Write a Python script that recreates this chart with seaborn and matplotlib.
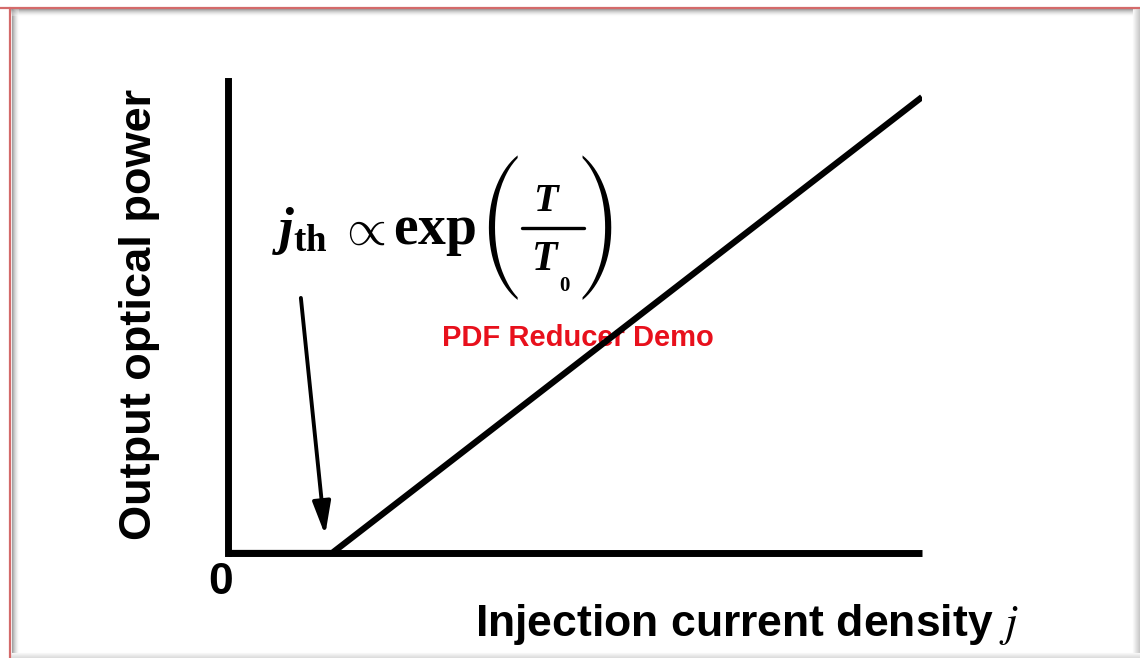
import os
import matplotlib
matplotlib.use("Agg")
import matplotlib.pyplot as plt
import seaborn as sns
import pandas as pd
from matplotlib.lines import Line2D
from matplotlib.font_manager import FontProperties

# Light output vs. injection current density of a laser diode (arbitrary units)
current_density = [0.0, 1.5, 10.0]
optical_power = [0.0, 0.0, 9.67]

# Annotation arrow pointing at the threshold current density
arrow_tail = (1.05, 5.41)
arrow_head = (1.40, 0.38)

x_label = r"Injection current density $j$"
y_label = "Output optical power"
origin_label = "0"
watermark = "PDF Reducer Demo"

sns.set_theme(style="white")
plt.rcParams.update({
    "font.family": ["Liberation Sans", "DejaVu Sans"],
    "text.color": "black",
    "mathtext.fontset": "custom",
    "mathtext.rm": "Liberation Serif:bold",
    "mathtext.it": "Liberation Serif:italic:bold",
    "mathtext.bf": "Liberation Serif:bold",
    "mathtext.fallback": "cm",
})

# Tall parenthesis glyphs shipped with matplotlib's STIX fonts
paren_font = FontProperties(
    fname=os.path.join(matplotlib.get_data_path(), "fonts", "ttf", "STIXSizFourSymReg.ttf"))

W, H = 1140, 658
fig = plt.figure(figsize=(W / 100, H / 100), dpi=100)
fig.patch.set_facecolor("white")


def fx(px):
    return px / W


def fy(py):
    return 1 - py / H


# Slide frame: red outline with soft grey inner shadow
for i in range(7):
    g = 0.60 + i * 0.06
    fig.add_artist(Line2D([fx(11), fx(1134)], [fy(9 + i), fy(9 + i)],
                          color=(g, g, g), lw=0.8, alpha=0.9 - i * 0.1))
    fig.add_artist(Line2D([fx(12 + i), fx(12 + i)], [fy(9), fy(658)],
                          color=(g, g, g), lw=0.8, alpha=0.9 - i * 0.1))
for i in range(8):
    g = 0.76 + i * 0.03
    fig.add_artist(Line2D([fx(1139.5 - i), fx(1139.5 - i)], [fy(9), fy(658)],
                          color=(g, g, g), lw=0.8))
for i in range(6):
    g = 0.84 + i * 0.025
    fig.add_artist(Line2D([fx(11), fx(1140)], [fy(657.5 - i), fy(657.5 - i)],
                          color=(g, g, g), lw=0.8))
fig.add_artist(Line2D([fx(0), fx(1140)], [fy(7.5), fy(7.5)], color="#d46a6a", lw=1.6))
fig.add_artist(Line2D([fx(10), fx(10)], [fy(7.5), fy(658)], color="#d46a6a", lw=1.6))

ax = fig.add_axes([fx(228), fy(553), fx(922) - fx(228), fy(81.5) - fy(553)])
ax.set_facecolor("none")

df = pd.DataFrame({"j": current_density, "P": optical_power})
sns.lineplot(data=df, x="j", y="P", ax=ax, color="black", lw=4.5,
             solid_capstyle="butt", zorder=4)

ax.set_xlim(0, 10)
ax.set_ylim(0, 10)
ax.set_xticks([])
ax.set_yticks([])
for side in ("top", "right"):
    ax.spines[side].set_visible(False)
for side in ("left", "bottom"):
    ax.spines[side].set_color("black")
    ax.spines[side].set_linewidth(5)
    ax.spines[side].set_zorder(5)
ax.spines["left"].set_capstyle("projecting")
ax.spines["bottom"].set_capstyle("butt")

ax.set_xlabel(x_label, fontsize=32, fontweight="bold", color="black",
              math_fontfamily="stix")
ax.xaxis.set_label_coords(0.747, -0.104)
ax.set_ylabel(y_label, fontsize=32.5, fontweight="bold", color="black")
ax.yaxis.set_label_coords(-0.098, 0.505)

ax.text(-0.10, -0.62, origin_label, fontsize=32, fontweight="bold", color="black",
        ha="center", va="center", clip_on=False)

ax.text(5.04, 4.55, watermark, fontsize=21, fontweight="bold", color="#e8101c",
        ha="center", va="center", zorder=3)

ax.annotate("", xy=arrow_head, xytext=arrow_tail,
            arrowprops=dict(arrowstyle="-|>,head_length=0.8,head_width=0.22",
                            mutation_scale=25, lw=2.8, color="black",
                            shrinkA=0, shrinkB=0))

# Threshold law: j_th ∝ exp(T / T0)
fig.text(fx(272), fy(244), r"$j_{\mathrm{th}}$", fontsize=38, ha="left", va="baseline")
fig.text(fx(363), fy(231), r"$\propto$", fontsize=37, ha="center", va="center")
fig.text(fx(393), fy(244), r"$\mathrm{exp}$", fontsize=40, ha="left", va="baseline")
fig.text(fx(501), fy(228), "(", fontproperties=paren_font, fontsize=34,
         ha="center", va="center")
fig.text(fx(598), fy(228), ")", fontproperties=paren_font, fontsize=34,
         ha="center", va="center")
fig.text(fx(547), fy(211), r"$T$", fontsize=29, ha="center", va="baseline")
fig.add_artist(Line2D([fx(522), fx(584)], [fy(228), fy(228)], color="black", lw=2.4))
fig.text(fx(545), fy(270), r"$T$", fontsize=30, ha="center", va="baseline")
fig.text(fx(559), fy(291), r"$\mathrm{0}$", fontsize=15, ha="left", va="baseline")

fig.savefig("out.png", dpi=100, facecolor="white")
